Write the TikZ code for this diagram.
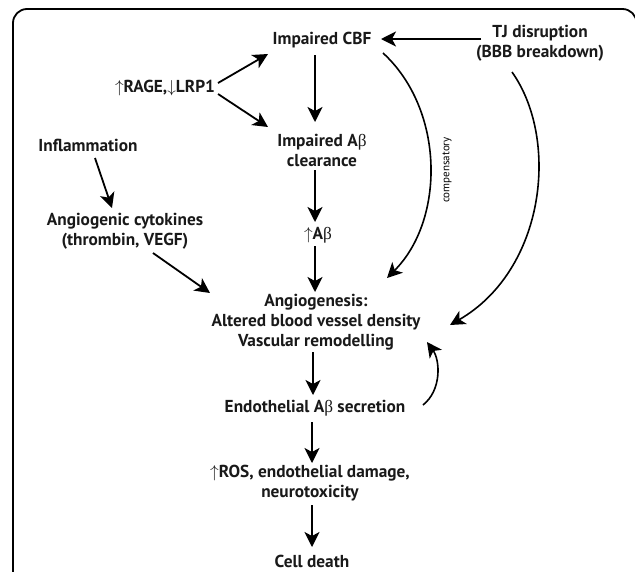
\documentclass[tikz,border=0pt]{standalone}
\usepackage{fontspec}
\setmainfont{PT Sans}
\newfontfamily\grk{Liberation Serif}
\newcommand{\bet}{{\grk\mdseries β}}
\usetikzlibrary{arrows.meta,calc}
\tikzset{
  t/.style={font=\bfseries\fontsize{17.3}{20}\selectfont, inner sep=0pt, align=center, text=black!90},
  t1/.style={font=\bfseries\fontsize{17.3}{20}\selectfont, inner sep=0pt, text=black!90},
  arr/.style={line width=1.8pt, -{Stealth[length=15pt,width=15pt,inset=4pt]}},
  carr/.style={line width=1.6pt, -{Stealth[length=15pt,width=15pt,inset=4pt]}},
  frame/.style={line width=1.8pt, rounded corners=14pt}
}
\begin{document}
\begin{tikzpicture}[x=1pt,y=-1pt]
\useasboundingbox (0,0) rectangle (635,571);
\clip (0,0) rectangle (635,571);
\draw[frame] (13,600) -- (13,9) -- (636.5,9) -- (636.5,600);
\node[t] (cbf) at (322,40) {Impaired CBF};
\node[t] (tj) at (540,43) {TJ disruption\\(BBB breakdown)};
\node[t] (rage) at (165,88) {$\uparrow$RAGE,$\downarrow$LRP1};
\node[t] (clr) at (322,150) {Impaired A\bet\\clearance};
\node[t] (infl) at (88,145) {Inflammation};
\node[t] (cyt) at (125,231) {Angiogenic cytokines\\(thrombin, VEGF)};
\node[t] (ab) at (318,235) {$\uparrow$A\bet};
\node[t] (ang) at (316,322) {Angiogenesis:\\Altered blood vessel density\\Vascular remodelling};
\node[t] (endo) at (315,408) {Endothelial A\bet\ secretion};
\node[t] (ros) at (310,483) {$\uparrow$ROS, endothelial damage,\\neurotoxicity};
\node[t1] (cell) at (312,561) {Cell death};
\node[font=\fontsize{11}{12}\selectfont, rotate=90, inner sep=0pt] (comp) at (447,170) {compensatory};
\draw[arr] ($(rage)+(53,-5)$) -- ($(cbf)+(-54,14)$);
\draw[arr] ($(rage)+(53,6)$) -- ($(clr)+(-54,-23)$);
\draw[arr] ($(cbf)+(-7,15)$) -- ($(clr)+(-7,-28)$);
\draw[arr] ($(clr)+(-7,20)$) -- ($(ab)+(-3,-13)$);
\draw[arr] ($(ab)+(-3,11)$) -- ($(ang)+(-1,-30)$);
\draw[arr] ($(tj)+(-59,-4)$) -- ($(cbf)+(59,-1)$);
\draw[carr] ($(cbf)+(61,13)$) .. controls (445,110) and (445,220) .. ($(ang)+(71,-44)$);
\draw[carr] ($(tj)+(-28,29)$) .. controls (560,140) and (545,270) .. ($(ang)+(134,3)$);
\draw[arr] ($(infl)+(7,13)$) -- ($(cyt)+(-13,-23)$);
\draw[arr] ($(cyt)+(28,22)$) -- ($(ang)+(-106,-29)$);
\draw[carr] ($(endo)+(108,-3)$) .. controls (442,390) and (440,360) .. ($(ang)+(111,20)$);
\draw[arr] ($(ang)+(-3,30)$) -- ($(endo)+(-2,-13)$);
\draw[arr] ($(endo)+(-3,14)$) -- ($(ros)+(2,-20)$);
\draw[arr] ($(ros)+(2,22)$) -- ($(cell)+(0,-14)$);
\end{tikzpicture}
\end{document}
